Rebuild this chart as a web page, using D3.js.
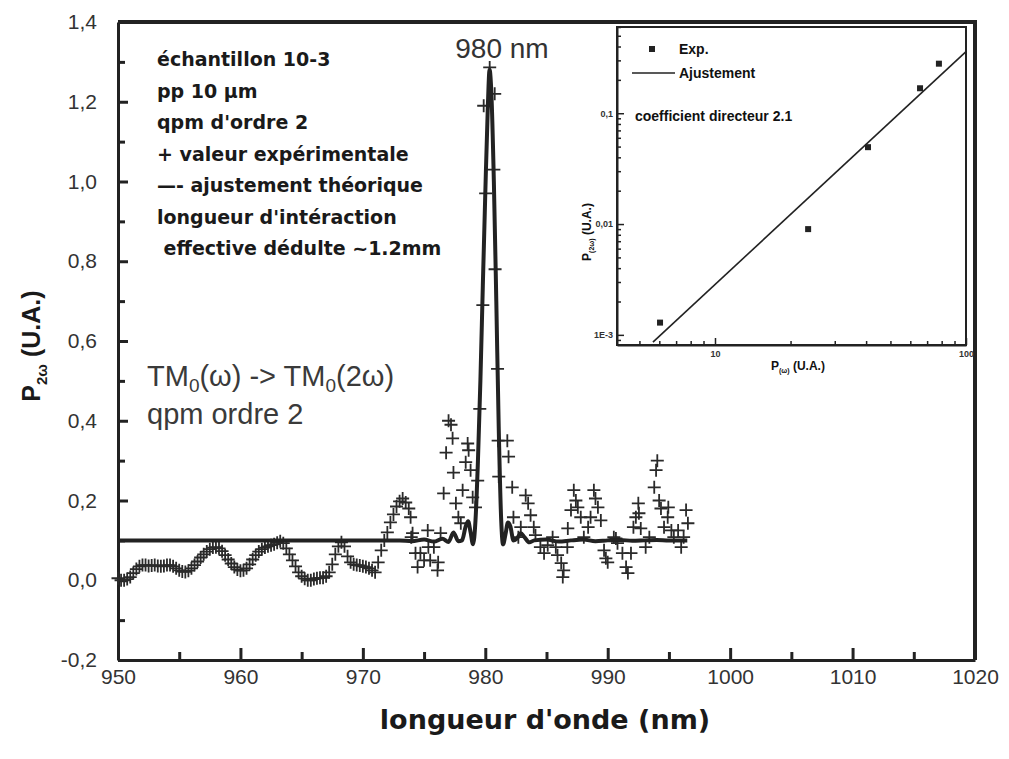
<!DOCTYPE html>
<html>
<head>
<meta charset="utf-8">
<script src="https://cdn.jsdelivr.net/npm/d3@7"></script>
<style>
  body { margin: 0; background: #fff; }
  svg { display: block; }
</style>
</head>
<body>
<svg id="chart" width="1009" height="759"></svg>
<script>
// ---- data ----
const xTicks = [950, 960, 970, 980, 990, 1000, 1010, 1020];
const xMinorTicks = [955, 965, 975, 985, 995, 1005, 1015];
const yTicks = [-0.2, 0, 0.2, 0.4, 0.6, 0.8, 1.0, 1.2, 1.4];
const yMinorTicks = [-0.1, 0.1, 0.3, 0.5, 0.7, 0.9, 1.1, 1.3];

// experimental values (+)
const expLambda = [
  950, 950.25, 950.5, 950.75, 951, 951.25, 951.5, 951.75, 952, 952.25, 952.5, 952.75,
  953, 953.25, 953.5, 953.75, 954, 954.25, 954.5, 954.75, 955, 955.25, 955.5, 955.75,
  956, 956.25, 956.5, 956.75, 957, 957.25, 957.5, 957.75, 958, 958.25, 958.5, 958.75,
  959, 959.25, 959.5, 959.75, 960, 960.25, 960.5, 960.75, 961, 961.25, 961.5, 961.75,
  962, 962.25, 962.5, 962.75, 963, 963.25, 963.5, 963.75, 964, 964.25, 964.5, 964.75,
  965, 965.25, 965.5, 965.75, 966, 966.25, 966.5, 966.75, 967, 967.25, 967.5, 967.75,
  968, 968.25, 968.5, 968.75, 969, 969.25, 969.5, 969.75, 970, 970.25, 970.5, 970.75,
  971, 971.25, 971.5, 971.75, 972, 972.25, 972.5, 972.75, 973, 973.25, 973.5, 973.75,
  973.9, 973.95, 974.06, 974.3, 974.47, 974.7, 975.0, 975.3, 975.35, 975.5, 975.8, 976.1,
  976.15, 976.35, 976.6, 976.8, 977.0, 977.2, 977.33, 977.4, 977.6, 977.8, 978.0, 978.15,
  978.4, 978.56, 978.64, 978.8, 978.97, 979.2, 979.38, 979.55, 979.8, 979.87, 980.03, 980.36,
  980.7, 980.77, 980.8, 981.0, 981.05, 981.1, 981.8, 981.9, 982.2, 982.3, 982.7, 982.9,
  983.3, 983.5, 983.7, 983.96, 984.1, 984.5, 984.8, 985.1, 985.5, 985.76, 985.9, 986.2,
  986.33, 986.4, 986.7, 986.74, 987.0, 987.23, 987.4, 987.56, 987.8, 988.05, 988.4, 988.6,
  988.87, 989.0, 989.2, 989.44, 989.7, 989.85, 990.0, 990.5, 990.67, 990.8, 991.2, 991.5,
  991.65, 991.9, 992.1, 992.3, 992.5, 992.55, 992.7, 993.1, 993.4, 993.8, 993.95, 994.05,
  994.2, 994.35, 994.6, 994.9, 994.95, 995.2, 995.4, 995.75, 996.0, 996.2, 996.4, 996.55
];
const expPower = [
  0.005, 0.0, 0.0, 0.003, 0.008, 0.018, 0.028, 0.035, 0.038, 0.038, 0.036, 0.037,
  0.038, 0.036, 0.035, 0.036, 0.038, 0.038, 0.035, 0.03, 0.025, 0.022, 0.021, 0.024,
  0.03, 0.038, 0.047, 0.057, 0.065, 0.072, 0.078, 0.082, 0.083, 0.08, 0.073, 0.063,
  0.052, 0.042, 0.033, 0.027, 0.024, 0.025, 0.03, 0.04, 0.052, 0.063, 0.072, 0.078,
  0.082, 0.085, 0.088, 0.09, 0.094, 0.098, 0.093, 0.08, 0.065, 0.05, 0.035, 0.02,
  0.01, 0.004, 0.0, 0.0, 0.003, 0.005, 0.006, 0.006, 0.01, 0.02, 0.04, 0.065,
  0.085, 0.095, 0.085, 0.06, 0.045, 0.04, 0.038, 0.037, 0.035, 0.033, 0.03, 0.025,
  0.02, 0.045, 0.075, 0.1, 0.12, 0.145, 0.165, 0.185, 0.198, 0.205, 0.195, 0.18,
  0.158, 0.108, 0.118, 0.068, 0.033, 0.068, 0.05, 0.125, 0.083, 0.05, 0.083, 0.025,
  0.045, 0.118, 0.218, 0.32, 0.40, 0.39, 0.356, 0.27, 0.193, 0.158, 0.143, 0.226,
  0.296, 0.343, 0.326, 0.276, 0.208, 0.183, 0.25, 0.43, 0.69, 1.19, 0.97, 1.286,
  1.03, 1.22, 0.78, 0.53, 0.35, 0.26, 0.35, 0.31, 0.233, 0.158, 0.108, 0.133,
  0.213, 0.193, 0.163, 0.133, 0.113, 0.083, 0.068, 0.088, 0.108, 0.083, 0.063, 0.043,
  0.008, 0.025, 0.083, 0.13, 0.176, 0.226, 0.2, 0.183, 0.158, 0.108, 0.133, 0.158,
  0.226, 0.205, 0.183, 0.15, 0.075, 0.055, 0.045, 0.108, 0.105, 0.093, 0.068, 0.033,
  0.018, 0.068, 0.133, 0.158, 0.193, 0.168, 0.13, 0.083, 0.108, 0.233, 0.276, 0.30,
  0.2, 0.18, 0.133, 0.158, 0.183, 0.125, 0.108, 0.125, 0.083, 0.108, 0.176, 0.143
];

// theoretical fit (solid line)
const fitLambda = [
  950, 955, 960, 965, 970, 973, 974, 975, 975.8, 976.5, 977, 977.4, 977.8, 978.1,
  978.4, 978.6, 978.8, 979.0, 979.2, 979.4, 979.6, 979.8, 980.0, 980.2, 980.35, 980.5,
  980.7, 980.9, 981.1, 981.3, 981.45, 981.65, 981.85, 982.05, 982.3, 982.6, 982.9, 983.2,
  983.6, 984, 985, 986, 987, 988, 989, 990, 991, 992, 993, 994, 995, 996.5
];
const fitPower = [
  0.1, 0.1, 0.1, 0.1, 0.1, 0.1, 0.098, 0.102, 0.097, 0.104, 0.096, 0.12, 0.098, 0.1,
  0.135, 0.148, 0.12, 0.09, 0.15, 0.3, 0.5, 0.74, 0.97, 1.18, 1.28, 1.22,
  1.0, 0.7, 0.38, 0.15, 0.09, 0.115, 0.145, 0.135, 0.1, 0.105, 0.118, 0.108,
  0.095, 0.1, 0.102, 0.097, 0.1, 0.102, 0.098, 0.1, 0.101, 0.099, 0.1, 0.101, 0.1, 0.1
];

const notes = [
  "échantillon 10-3",
  "pp 10 µm",
  "qpm d'ordre 2",
  "+ valeur expérimentale",
  "—- ajustement théorique",
  "longueur d'intéraction",
  " effective dédulte ~1.2mm"
];

// inset: log-log power dependence
const insetPw = [6.04, 23.5, 40.7, 65.6, 78];
const insetP2w = [0.00129, 0.009, 0.0494, 0.168, 0.28];
const insetFitPw = [5.66, 100];
const insetFitP2w = [0.00086, 0.36];
const insetXLabels = [10, 100];
const insetYValues = [0.001, 0.01, 0.1];
const insetYLabels = ["1E-3", "0,01", "0,1"];

// ---- drawing ----
const svg = d3.select("#chart");
const ink = "#222";
const textInk = "#333";

const x = d3.scaleLinear().domain([950, 1020]).range([118, 975]);
const y = d3.scaleLinear().domain([-0.2, 1.4]).range([660, 22]);

// frame (top and right)
svg.append("line")
  .attr("x1", x(950)).attr("x2", x(1020) + 2)
  .attr("y1", y(1.4)).attr("y2", y(1.4))
  .attr("stroke", ink).attr("stroke-width", 4);
svg.append("line")
  .attr("x1", x(1020)).attr("x2", x(1020))
  .attr("y1", y(1.4)).attr("y2", y(-0.2))
  .attr("stroke", ink).attr("stroke-width", 4);

// bottom axis
const xAxis = svg.append("g")
  .attr("transform", `translate(0,${y(-0.2)})`)
  .call(d3.axisBottom(x).tickValues(xTicks).tickSize(-12).tickSizeOuter(0)
    .tickPadding(9).tickFormat(d3.format("d")));
svg.append("g")
  .attr("transform", `translate(0,${y(-0.2)})`)
  .call(d3.axisBottom(x).tickValues(xMinorTicks).tickSize(-8).tickSizeOuter(0).tickFormat(""))
  .call(g => g.select(".domain").remove());

// left axis (comma decimals, plain hyphen for minus)
const yAxis = svg.append("g")
  .attr("transform", `translate(${x(950)},0)`)
  .call(d3.axisLeft(y).tickValues(yTicks).tickSize(-10).tickSizeOuter(0)
    .tickPadding(21).tickFormat(d => d3.format(".1f")(d).replace(".", ",").replace("−", "-")));
svg.append("g")
  .attr("transform", `translate(${x(950)},0)`)
  .call(d3.axisLeft(y).tickValues(yMinorTicks).tickSize(-7).tickSizeOuter(0).tickFormat(""))
  .call(g => g.select(".domain").remove());

svg.selectAll(".domain").attr("stroke", ink).attr("stroke-width", 3);
svg.selectAll(".tick line").attr("stroke", ink).attr("stroke-width", 3);
[xAxis, yAxis].forEach(a => a.selectAll("text")
  .attr("font-family", "Liberation Sans, Arial, sans-serif")
  .attr("font-size", "21px")
  .attr("fill", textInk));

// experimental crosses
const expData = d3.zip(expLambda, expPower);
svg.append("g").selectAll("path")
  .data(expData)
  .join("path")
  .attr("transform", d => `translate(${x(d[0])},${y(d[1])})`)
  .attr("d", "M-6.5,0H6.5M0,-6.5V6.5")
  .attr("stroke", "#2a2a2a")
  .attr("stroke-width", 1.8)
  .attr("fill", "none");

// fitted curve
const fitLine = d3.line()
  .x(d => x(d[0]))
  .y(d => y(d[1]))
  .curve(d3.curveMonotoneX);
svg.append("path")
  .datum(d3.zip(fitLambda, fitPower))
  .attr("d", fitLine)
  .attr("fill", "none")
  .attr("stroke", ink)
  .attr("stroke-width", 4);

// peak label
svg.append("text")
  .attr("x", 502).attr("y", 58)
  .attr("text-anchor", "middle")
  .attr("font-family", "Liberation Sans, Arial, sans-serif")
  .attr("font-size", "28px")
  .attr("fill", textInk)
  .text("980 nm");

// annotation block
svg.append("g").selectAll("text")
  .data(notes)
  .join("text")
  .attr("x", 157)
  .attr("y", (d, i) => 66 + i * 31.5)
  .attr("font-family", "DejaVu Sans, sans-serif")
  .attr("font-weight", "bold")
  .attr("font-size", "19px")
  .attr("fill", "#1a1a1a")
  .style("white-space", "pre")
  .text(d => d);

// mode text
const modeText = svg.append("text")
  .attr("x", 147).attr("y", 386)
  .attr("font-family", "Liberation Sans, Arial, sans-serif")
  .attr("font-size", "29px")
  .attr("fill", "#3a3a3a");
modeText.append("tspan").text("TM");
modeText.append("tspan").attr("font-size", "19px").attr("dy", 6).text("0");
modeText.append("tspan").attr("dy", -6).text("(ω) -> TM");
modeText.append("tspan").attr("font-size", "19px").attr("dy", 6).text("0");
modeText.append("tspan").attr("dy", -6).text("(2ω)");
svg.append("text")
  .attr("x", 147).attr("y", 424)
  .attr("font-family", "Liberation Sans, Arial, sans-serif")
  .attr("font-size", "29px")
  .attr("fill", "#3a3a3a")
  .text("qpm ordre 2");

// axis titles
svg.append("text")
  .attr("x", 545).attr("y", 729)
  .attr("text-anchor", "middle")
  .attr("font-family", "DejaVu Sans, sans-serif")
  .attr("font-weight", "bold")
  .attr("font-size", "27px")
  .attr("fill", "#1a1a1a")
  .text("longueur d'onde (nm)");

const yTitle = svg.append("text")
  .attr("transform", "translate(40,346) rotate(-90)")
  .attr("text-anchor", "middle")
  .attr("font-family", "Liberation Sans, Arial, sans-serif")
  .attr("font-weight", "bold")
  .attr("font-size", "25px")
  .attr("fill", "#1a1a1a");
yTitle.append("tspan").text("P");
yTitle.append("tspan").attr("font-size", "15px").attr("dy", 7).text("2ω");
yTitle.append("tspan").attr("dy", -7).text(" (U.A.)");

// ---- inset ----
const ix = d3.scaleLog().domain([4.07, 100]).range([617, 966]);
const iy = d3.scaleLog().domain([0.00081, 0.6]).range([345, 27]);
const inset = svg.append("g");

inset.append("rect")
  .attr("x", ix.range()[0]).attr("y", iy.range()[1])
  .attr("width", ix.range()[1] - ix.range()[0])
  .attr("height", iy.range()[0] - iy.range()[1])
  .attr("fill", "#fff")
  .attr("stroke", ink).attr("stroke-width", 2);

inset.append("g")
  .attr("transform", `translate(0,${iy.range()[0]})`)
  .call(d3.axisBottom(ix).tickValues(ix.ticks()).tickSize(-4).tickSizeOuter(0).tickFormat(""))
  .call(g => g.selectAll(".tick line").filter(d => insetXLabels.includes(d)).attr("y2", -7));
inset.append("g")
  .attr("transform", `translate(0,${iy.range()[0]})`)
  .call(d3.axisBottom(ix).tickValues(insetXLabels).tickSize(0).tickSizeOuter(0)
    .tickPadding(6).tickFormat(d3.format("d")))
  .call(g => g.select(".domain").remove());

inset.append("g")
  .attr("transform", `translate(${ix.range()[0]},0)`)
  .call(d3.axisLeft(iy).tickValues(iy.ticks()).tickSize(-4).tickSizeOuter(0).tickFormat(""))
  .call(g => g.selectAll(".tick line").filter(d => insetYValues.some(v => Math.abs(v - d) < 1e-9)).attr("x2", 7));
inset.append("g")
  .attr("transform", `translate(${ix.range()[0]},0)`)
  .call(d3.axisLeft(iy).tickValues(insetYValues).tickSize(0).tickSizeOuter(0)
    .tickPadding(4).tickFormat((d, i) => insetYLabels[i]))
  .call(g => g.select(".domain").remove());

inset.selectAll(".domain").attr("stroke", ink).attr("stroke-width", 2);
inset.selectAll(".tick line").attr("stroke", ink).attr("stroke-width", 1.5);
inset.selectAll(".tick text")
  .attr("font-family", "Liberation Sans, Arial, sans-serif")
  .attr("font-weight", "bold")
  .attr("font-size", "9px")
  .attr("fill", textInk);

inset.append("path")
  .datum(d3.zip(insetFitPw, insetFitP2w))
  .attr("d", d3.line().x(d => ix(d[0])).y(d => iy(d[1])))
  .attr("stroke", ink).attr("stroke-width", 1.6).attr("fill", "none");

inset.selectAll("rect.pt")
  .data(d3.zip(insetPw, insetP2w))
  .join("rect")
  .attr("class", "pt")
  .attr("x", d => ix(d[0]) - 3).attr("y", d => iy(d[1]) - 3)
  .attr("width", 6).attr("height", 6)
  .attr("fill", ink);

// inset legend
const legFont = g => g
  .attr("font-family", "Liberation Sans, Arial, sans-serif")
  .attr("font-weight", "bold")
  .attr("font-size", "14px")
  .attr("fill", "#111");
inset.append("rect").attr("x", 649).attr("y", 46).attr("width", 6).attr("height", 6).attr("fill", ink);
inset.append("text").attr("x", 679).attr("y", 54).call(legFont).text("Exp.");
inset.append("line").attr("x1", 632).attr("x2", 675).attr("y1", 73).attr("y2", 73)
  .attr("stroke", ink).attr("stroke-width", 1.6);
inset.append("text").attr("x", 679).attr("y", 78).call(legFont).text("Ajustement");
inset.append("text").attr("x", 635).attr("y", 121).call(legFont).text("coefficient directeur 2.1");

// inset axis titles
const ixTitle = inset.append("text")
  .attr("x", 771).attr("y", 370)
  .call(legFont).attr("font-size", "12px");
ixTitle.append("tspan").text("P");
ixTitle.append("tspan").attr("font-size", "7px").attr("dy", 3).text("(ω)");
ixTitle.append("tspan").attr("dy", -3).text(" (U.A.)");

const iyTitle = inset.append("text")
  .attr("transform", "translate(591,232) rotate(-90)")
  .attr("text-anchor", "middle")
  .call(legFont).attr("font-size", "12px");
iyTitle.append("tspan").text("P");
iyTitle.append("tspan").attr("font-size", "7px").attr("dy", 3).text("(2ω)");
iyTitle.append("tspan").attr("dy", -3).text(" (U.A.)");
</script>
</body>
</html>
